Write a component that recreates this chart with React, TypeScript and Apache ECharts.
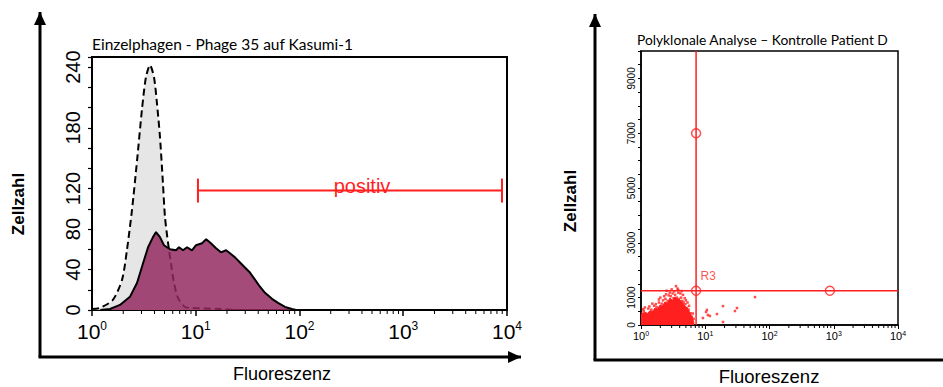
import React, { useEffect, useRef } from "react";
import * as echarts from "echarts";

// ---- Histogram: Einzelphagen - Phage 35 auf Kasumi-1 ----
const controlFluor = [1.0, 1.19, 1.59, 1.95, 2.17, 2.43, 2.72, 3.03, 3.31, 3.62, 3.96, 4.23, 4.52, 4.83, 5.05, 5.41, 5.77, 6.17, 6.74, 7.88, 9.4, 17.1, 25];
const controlCount = [1, 2, 10, 30, 59, 99, 148, 198, 230, 242, 230, 204, 171, 125, 92, 66, 46, 27, 12, 3, 2, 1, 0];

const phageFluor = [1.2, 1.49, 1.86, 2.32, 2.72, 3.1, 3.47, 3.87, 4.14, 4.52, 4.94, 5.65, 6.45, 6.9, 7.54, 8.24, 9.2, 10.06, 11.5, 12.6, 14.0, 15.7, 17.5, 19.6, 21.4, 23.9, 26.7, 29.8, 33.3, 37.2, 41.6, 46.5, 54.3, 62.1, 72.5, 84.7, 92.5];
const phageCount = [0, 1, 5, 13, 27, 46, 62, 72, 77, 72, 64, 60, 59, 62, 59, 62, 59, 64, 66, 70, 66, 61, 57, 59, 56, 52, 47, 42, 37, 30, 23, 17, 11, 7, 3, 1, 0];

// "positiv" gate: [from, to, level]
const positivGate = [10.5, 8950, 118];

const histYLabels = [0, 40, 80, 120, 180, 240];

// ---- Dot plot: Polyklonale Analyse – Kontrolle Patient D ----
// upper edge of the dense event population
const coreFluor = [1.0, 1.08, 1.15, 1.25, 1.38, 1.5, 1.65, 1.8, 1.98, 2.15, 2.36, 2.6, 2.83, 3.1, 3.38, 3.7, 4.05, 4.4, 4.84, 5.3, 5.79, 6.1, 6.45, 6.7];
const coreUpper = [365, 430, 475, 420, 520, 480, 620, 580, 730, 690, 840, 800, 985, 900, 1020, 950, 910, 820, 690, 600, 440, 330, 180, 60];

// individual events around the population and outliers
const events: number[][] = [
  [1.05, 420], [1.1, 520], [1.2, 380], [1.3, 600], [1.45, 560], [1.6, 700], [1.75, 650], [1.9, 820],
  [2.1, 780], [2.2, 900], [2.4, 950], [2.6, 880], [2.7, 1080], [2.9, 1050], [3.1, 1150], [3.2, 980],
  [3.4, 1100], [3.6, 1000], [3.8, 1180], [3.9, 950], [4.2, 1000], [4.4, 880], [4.6, 820], [4.9, 760],
  [5.2, 620], [5.5, 560], [5.9, 430], [6.2, 300], [6.6, 220], [6.0, 150], [2.5, 1250], [3.0, 1300],
  [3.5, 1420], [3.8, 1280], [2.0, 1000], [1.5, 780], [4.5, 1100], [5.0, 900], [1.08, 580],
  [1.35, 680], [1.7, 760], [2.3, 1050], [2.8, 1180], [3.3, 1230], [4.1, 1150], [4.8, 980], [5.6, 700],
  [1.15, 640], [2.45, 1120], [3.7, 1330], [4.3, 1240], [1.9, 930], [5.3, 820], [6.4, 420],
  [10.3, 475], [11.0, 365], [9.2, 255], [15.2, 400], [18.9, 110], [18.9, 690], [29.0, 510],
  [31.2, 620], [59.5, 1020], [10.6, 550], [11.8, 330],
];

const gateX = 7.2;
const gateY = 1250;
const gateHandles = [[7.2, 7000], [7.2, 1250], [870, 1250]];

const dotYLabels = [0, 1000, 3000, 5000, 7000, 9000];

const RED = "#ff1f1f";
const SANS = "'Liberation Sans', Arial, Helvetica, sans-serif";
const TITLE_FONT = "Lato, 'Open Sans', sans-serif";

// minor tick positions of a four-decade log axis
const minorLogTicks: number[] = [];
for (let d = 0; d < 4; d++) {
  for (let m = 2; m <= 9; m++) minorLogTicks.push(m * Math.pow(10, d));
}

const zip = (a: number[], b: number[]) => a.map((v, i) => [v, b[i]]);

const supFormatter = (v: number) => `{b|10}{s|${Math.round(Math.log10(v))}}`;

function minorTickSeries(axisIndex: number, len: number) {
  return {
    type: "custom",
    xAxisIndex: axisIndex,
    yAxisIndex: axisIndex,
    silent: true,
    clip: false,
    z: 10,
    data: minorLogTicks.map((v) => [v, 0]),
    encode: { x: 0, y: 1 },
    renderItem: (_p: any, api: any) => {
      const pt = api.coord([api.value(0), 0]);
      return {
        type: "line",
        shape: { x1: pt[0], y1: pt[1], x2: pt[0], y2: pt[1] + len },
        style: { stroke: "#000", lineWidth: 1 },
      };
    },
  };
}

function arrow(x1: number, y1: number, x2: number, y2: number, head: boolean) {
  const children: any[] = [
    { type: "line", shape: { x1, y1, x2, y2 }, style: { stroke: "#000", lineWidth: 3 } },
  ];
  if (head) {
    const ang = Math.atan2(y2 - y1, x2 - x1);
    const L = 13;
    const W = 6;
    const bx = x2 - L * Math.cos(ang);
    const by = y2 - L * Math.sin(ang);
    children.push({
      type: "polygon",
      shape: {
        points: [
          [x2, y2],
          [bx + W * Math.sin(ang), by - W * Math.cos(ang)],
          [bx - W * Math.sin(ang), by + W * Math.cos(ang)],
        ],
      },
      style: { fill: "#000" },
    });
  }
  return { type: "group", children };
}

export default function App() {
  const ref = useRef<HTMLDivElement>(null);

  useEffect(() => {
    document.body.style.margin = "0";
    if (!ref.current) return;
    const chart = echarts.init(ref.current, undefined, { renderer: "svg" });

    const option: any = {
      animation: false,
      backgroundColor: "#fff",
      title: [
        {
          text: "Einzelphagen - Phage 35 auf Kasumi-1",
          left: 92,
          top: 36,
          padding: 0,
          textStyle: { fontFamily: TITLE_FONT, fontSize: 15.5, fontWeight: "normal", color: "#000" },
        },
        {
          text: "Polyklonale Analyse – Kontrolle Patient D",
          left: 637,
          top: 32,
          padding: 0,
          textStyle: { fontFamily: TITLE_FONT, fontSize: 13.8, fontWeight: "normal", color: "#000" },
        },
      ],
      grid: [
        { left: 92, top: 57, width: 415, height: 253, show: true, borderColor: "#000", borderWidth: 2, backgroundColor: "transparent" },
        { left: 641, top: 51, width: 257, height: 274, show: true, borderColor: "#000", borderWidth: 1.5, backgroundColor: "transparent" },
      ],
      xAxis: [
        {
          gridIndex: 0,
          type: "log",
          logBase: 10,
          min: 1,
          max: 10000,
          axisLine: { lineStyle: { color: "#000", width: 2 } },
          axisTick: { show: true, length: 6, lineStyle: { color: "#000", width: 1.5 } },
          splitLine: { show: false },
          axisLabel: {
            margin: 10,
            formatter: supFormatter,
            color: "#000",
            rich: {
              b: { fontFamily: SANS, fontSize: 21, lineHeight: 22, color: "#000" },
              s: { fontFamily: SANS, fontSize: 12, lineHeight: 12, verticalAlign: "top", color: "#000" },
            },
          },
        },
        {
          gridIndex: 1,
          type: "log",
          logBase: 10,
          min: 1,
          max: 10000,
          axisLine: { lineStyle: { color: "#000", width: 1.5 } },
          axisTick: { show: true, length: 4, lineStyle: { color: "#000", width: 1 } },
          splitLine: { show: false },
          axisLabel: {
            margin: 5,
            formatter: supFormatter,
            color: "#000",
            rich: {
              b: { fontFamily: SANS, fontSize: 11, lineHeight: 12, color: "#000" },
              s: { fontFamily: SANS, fontSize: 7, lineHeight: 7, verticalAlign: "top", color: "#000" },
            },
          },
        },
      ],
      yAxis: [
        {
          gridIndex: 0,
          type: "value",
          min: 0,
          max: 250,
          interval: 20,
          axisLine: { show: true, lineStyle: { color: "#000", width: 2 } },
          axisTick: { show: true, length: 4, lineStyle: { color: "#000", width: 1.2 } },
          splitLine: { show: false },
          axisLabel: {
            rotate: 90,
            margin: 9,
            fontFamily: SANS,
            fontSize: 20,
            color: "#000",
            formatter: (v: number) => (histYLabels.includes(v) ? String(v) : ""),
          },
        },
        {
          gridIndex: 1,
          type: "value",
          min: 0,
          max: 10000,
          interval: 500,
          axisLine: { show: true, lineStyle: { color: "#000", width: 1.5 } },
          axisTick: { show: true, length: 3, lineStyle: { color: "#000", width: 1 } },
          splitLine: { show: false },
          axisLabel: {
            rotate: 90,
            margin: 5,
            fontFamily: SANS,
            fontSize: 10,
            color: "#000",
            formatter: (v: number) => (dotYLabels.includes(v) ? String(v) : ""),
          },
        },
      ],
      series: [
        // control: grey fill
        {
          type: "line",
          xAxisIndex: 0,
          yAxisIndex: 0,
          data: zip(controlFluor, controlCount),
          smooth: 0.25,
          symbol: "none",
          lineStyle: { width: 0 },
          areaStyle: { color: "#e6e6e6", opacity: 1 },
          z: 1,
        },
        // control: dashed outline
        {
          type: "line",
          xAxisIndex: 0,
          yAxisIndex: 0,
          data: zip(controlFluor, controlCount),
          smooth: 0.25,
          symbol: "none",
          lineStyle: { color: "#000", width: 2, type: [7, 4] },
          z: 2,
        },
        // Phage 35
        {
          type: "line",
          xAxisIndex: 0,
          yAxisIndex: 0,
          data: zip(phageFluor, phageCount),
          symbol: "none",
          lineStyle: { color: "#000", width: 2 },
          areaStyle: { color: "#93295f", opacity: 0.84 },
          z: 3,
        },
        // "positiv" gate
        {
          type: "custom",
          xAxisIndex: 0,
          yAxisIndex: 0,
          clip: false,
          z: 5,
          data: [positivGate],
          encode: { x: [0, 1], y: 2 },
          renderItem: (_p: any, api: any) => {
            const lo = api.value(0);
            const hi = api.value(1);
            const lvl = api.value(2);
            const a = api.coord([lo, lvl]);
            const b = api.coord([hi, lvl]);
            const mid = api.coord([Math.sqrt(lo * hi), lvl]);
            const cap = 12;
            const st = { stroke: RED, lineWidth: 2 };
            return {
              type: "group",
              children: [
                { type: "text", x: mid[0] + 12, y: a[1] - 5, style: { text: "positiv", fill: RED, fontFamily: SANS, fontSize: 20, align: "center", verticalAlign: "middle" } },
                { type: "line", shape: { x1: a[0], y1: a[1], x2: b[0], y2: b[1] }, style: st },
                { type: "line", shape: { x1: a[0], y1: a[1] - cap, x2: a[0], y2: a[1] + cap }, style: st },
                { type: "line", shape: { x1: b[0], y1: b[1] - cap, x2: b[0], y2: b[1] + cap }, style: st },
              ],
            };
          },
        },
        minorTickSeries(0, 4),
        // dense event population
        {
          type: "line",
          xAxisIndex: 1,
          yAxisIndex: 1,
          data: zip(coreFluor, coreUpper),
          symbol: "none",
          lineStyle: { color: RED, width: 1 },
          areaStyle: { color: RED, opacity: 1 },
          z: 2,
        },
        // single events
        {
          type: "scatter",
          xAxisIndex: 1,
          yAxisIndex: 1,
          data: events,
          symbol: "rect",
          symbolSize: 2.5,
          itemStyle: { color: RED },
          z: 3,
        },
        // R3 gate lines
        {
          type: "line",
          xAxisIndex: 1,
          yAxisIndex: 1,
          data: [[gateX, 0], [gateX, 10000]],
          symbol: "none",
          lineStyle: { color: RED, width: 1.5 },
          z: 4,
        },
        {
          type: "line",
          xAxisIndex: 1,
          yAxisIndex: 1,
          data: [[1, gateY], [10000, gateY]],
          symbol: "none",
          lineStyle: { color: RED, width: 1.5 },
          z: 4,
        },
        // gate handles
        {
          type: "scatter",
          xAxisIndex: 1,
          yAxisIndex: 1,
          data: gateHandles,
          symbol: "circle",
          symbolSize: 9,
          itemStyle: { color: "rgba(255,255,255,0)", borderColor: RED, borderWidth: 1.5 },
          z: 5,
        },
        // gate name
        {
          type: "scatter",
          xAxisIndex: 1,
          yAxisIndex: 1,
          data: [[gateX, gateY]],
          symbolSize: 1,
          itemStyle: { color: "rgba(0,0,0,0)" },
          label: {
            show: true,
            formatter: "R3",
            position: "right",
            distance: 4,
            offset: [0, -15],
            color: RED,
            fontFamily: SANS,
            fontSize: 12,
          },
          z: 5,
        },
        minorTickSeries(1, 3),
      ],
      graphic: [
        arrow(40, 357, 40, 12, true),
        arrow(38.5, 357, 521, 357, true),
        arrow(595, 360, 595, 14, true),
        arrow(593.5, 360, 943, 360, false),
        {
          type: "text",
          x: 18,
          y: 204,
          rotation: Math.PI / 2,
          style: { text: "Zellzahl", fill: "#000", fontFamily: SANS, fontSize: 17, fontWeight: "bold", align: "center", verticalAlign: "middle" },
        },
        {
          type: "text",
          x: 570,
          y: 201,
          rotation: Math.PI / 2,
          style: { text: "Zellzahl", fill: "#000", fontFamily: SANS, fontSize: 17, fontWeight: "bold", align: "center", verticalAlign: "middle" },
        },
        {
          type: "text",
          x: 282,
          y: 374,
          style: { text: "Fluoreszenz", fill: "#000", fontFamily: SANS, fontSize: 18, align: "center", verticalAlign: "middle" },
        },
        {
          type: "text",
          x: 769,
          y: 376,
          style: { text: "Fluoreszenz", fill: "#000", fontFamily: SANS, fontSize: 18.5, align: "center", verticalAlign: "middle" },
        },
      ],
    };

    chart.setOption(option);
    return () => chart.dispose();
  }, []);

  return <div ref={ref} style={{ width: 943, height: 387 }} />;
}
